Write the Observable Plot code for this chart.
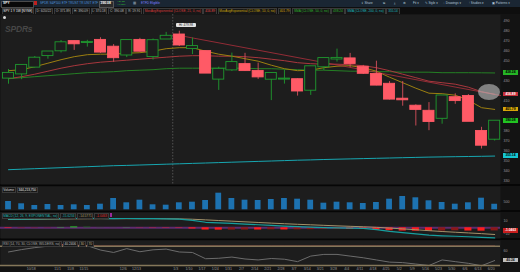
<!DOCTYPE html>
<html><head><meta charset="utf-8">
<script src="https://cdn.jsdelivr.net/npm/d3@7"></script>
<script src="https://cdn.jsdelivr.net/npm/@observablehq/plot@0.6"></script>
<style>
html,body{margin:0;padding:0;background:#060606;}
#wrap{position:relative;width:520px;height:272px;overflow:hidden;font-family:"Liberation Sans","DejaVu Sans",sans-serif;}
.hb{position:absolute;white-space:nowrap;font-size:3.2px;line-height:4.2px;height:4.2px;padding:0 0.8px;background:#171717;border:0.4px solid #3a3a3a;box-sizing:content-box;}
.vb{position:absolute;white-space:nowrap;font-size:3.3px;line-height:4.4px;height:4.4px;width:15px;text-align:center;font-weight:bold;}
</style></head><body><div id="wrap"></div>
<script>
// ---------- data ----------
const weeks = ["10/4","10/11","10/18","10/25","11/1","11/8","11/15","11/22","11/29","12/6","12/13","12/20","12/27","1/3","1/10","1/17","1/24","1/31","2/7","2/14","2/21","2/28","3/7","3/14","3/21","3/28","4/4","4/11","4/18","4/25","5/2","5/9","5/16","5/23","5/30","6/6","6/13","6/20"];
const open  = [433.0,437.2,444.0,455.5,460.3,469.7,468.6,470.9,464.1,456.1,470.9,454.5,472.1,476.3,462.7,459.7,432.0,441.2,446.7,439.9,431.9,432.0,431.6,420.9,444.3,452.1,452.4,444.1,436.8,427.0,412.1,405.1,400.0,392.8,413.6,414.8,379.8,371.89];
const high  = [441.7,446.3,454.7,459.6,470.7,470.2,470.9,473.5,466.6,470.9,472.9,472.2,478.8,479.98,473.2,460.0,444.0,458.1,457.9,448.1,438.7,441.1,432.3,444.9,453.0,462.1,457.8,445.8,450.0,429.6,429.7,406.4,408.6,415.4,417.4,416.6,383.9,390.09];
const low   = [427.0,431.5,443.3,452.0,458.2,460.8,464.1,457.8,448.9,453.6,459.1,451.1,472.1,464.7,456.6,438.0,420.8,439.8,439.9,431.8,410.6,427.1,415.1,415.8,440.7,449.1,443.5,436.7,425.4,411.2,405.0,385.2,380.5,387.0,406.9,389.8,362.2,370.18];
const close = [437.9,445.9,453.1,459.3,468.5,467.3,468.9,459.0,453.4,470.7,459.9,470.6,475.0,466.1,464.7,438.0,442.0,448.7,440.5,434.2,437.8,432.2,420.1,444.5,452.7,452.9,447.6,437.8,426.0,412.0,411.3,401.7,389.6,415.3,410.5,389.8,365.9,390.08];
const ema10 = [440.5,441.5,444.5,448,451.5,454.5,456.5,457,457,458,458.5,460,462.5,463.5,463.5,460,457,455,452.5,450,446,442.5,440.5,441,443.5,445,445.5,443.5,440,434,428.5,423,418,417.5,416,411,403.5,401.79];
const ema21 = [432.5,434.5,437,440,443,445.5,447.5,449,450,451,452,453,454,455,455.5,455.5,455,455,454.5,453.5,452,450.5,448.5,447.5,447,447,446.5,445.5,443.5,440.5,437,433.5,430,428.5,427,424,419.5,416.89];
const sma50 = [432.5,433.5,434.5,435.5,436.5,437.5,438.5,439,439.5,440.5,441,441.5,442.5,443,443,443,443,443,443,442.5,442.5,442,441.5,441,441,440.5,440,440,439.5,439.5,439,439,439,438.5,438.5,438.5,438.4,438.24];
const sma200 = [341.5,342,342.5,343,343.5,344,344.5,345,345.5,345.8,346.2,346.6,347,347.4,347.8,348.2,348.6,349,349.4,349.8,350.2,350.6,351,351.3,351.7,352,352.3,352.6,352.9,353.2,353.5,353.8,354.1,354.3,354.5,354.7,354.9,355.14];
const trendWeeks = [13.3, 37.44];
const trendPrice = [475, 415.7];
const yearBreak = [12.5];
const volume = [540,390,280,345,280,325,280,365,735,455,625,325,300,455,495,605,1080,735,625,605,670,735,690,625,430,495,455,410,475,690,865,780,585,475,365,455,755,360];
const macd   = [13.3,13.5,13.7,13.9,14.1,14.3,14.4,14.3,14.2,14.3,14.2,14.0,13.8,13.3,11.5,8.5,7.6,6.8,5.8,4.7,3.6,2.6,1.7,1.0,0.4,-0.1,-0.6,-1.0,-2.8,-5.5,-7.5,-9.2,-11.2,-12.3,-13.0,-13.8,-14.6,-15.6];
const signal = [12.8,13.0,13.2,13.4,13.6,13.8,13.9,14.0,14.0,14.0,14.0,14.0,13.9,13.7,13.2,12.2,11.2,10.2,9.2,8.2,7.2,6.3,5.4,4.6,3.8,3.0,2.3,1.6,0.8,-0.4,-1.7,-3.0,-4.4,-5.7,-6.8,-7.9,-9.0,-10.3];
const hist   = [-0.8,-0.6,-0.5,-0.4,0.5,1.2,1.0,0.3,0.2,0.3,-0.3,-0.4,-0.5,-0.6,-1.8,-3.4,-3.6,-3.5,-3.4,-3.4,-3.0,-3.3,-3.0,-2.8,-2.5,-2.4,-2.6,-2.6,-3.6,-4.5,-5.0,-5.2,-5.5,-5.0,-4.6,-5.0,-5.2,-4.8];
const rsi = [58,63,67,70,73,72,71,62,57,65,58.5,62.5,64,58,57,44,45,47.5,43.5,41.5,44.5,43,38,49.5,53,53,49.5,46,41.5,37,36,33,30,41.5,38,34.5,29.5,40.24];
const tickLabels = ["10/18","11/1","11/8","11/15","12/6","12/13","1/3","1/10","1/17","1/24","1/31","2/7","2/14","2/21","2/28","3/7","3/14","3/21","3/28","4/4","4/11","4/18","4/25","5/2","5/9","5/16","5/23","5/30","6/6","6/13","6/20"];
const priceTicks = [330,340,350,360,370,380,390,400,410,420,430,440,450,460,470,480,490];
const volTicks = [500];
const macdTicks = [10,-10];
const rsiTicks = [60];
const rsiLevels = [70,30];
const highlight = {week: 36.6, price: 418.7};
const volumeReadout = "344,213,750";
const macdReadout = ["-15.6234","-14.5771","-1.0463"];
const rsiReadout = "40.2406";
const change = ["+24.22","+6.62%"];

// ---------- layout / style ----------
const N = weeks.length, idx = d3.range(N);
const xDomain = [-0.609, 37.443];
const W = 520, MR = 20;
const panelBg = "#1d1d1d", stripBg = "#131313";
const UP = "#1f9b2f", DN = "#ff5a66", DNW = "#d8505c";
const wrap = document.getElementById("wrap");
function put(node, top){ node.style.position="absolute"; node.style.left="0px"; node.style.top=top+"px"; wrap.appendChild(node); return node; }
function div(css, text){ const e=document.createElement("div"); e.style.cssText=css; if(text!=null) e.textContent=text; wrap.appendChild(e); return e; }
function lab(left, top, text, color, size=3.2, extra=""){ return div(`position:absolute;white-space:nowrap;line-height:1;left:${left}px;top:${top}px;color:${color};font-size:${size}px;${extra}`, text); }
function hb(left, top, text, color, extra=""){ const e=div(`left:${left}px;top:${top}px;color:${color};${extra}`, text); e.className="hb"; return e; }
function hbRow(start, top, items, gap=0.9){ let x = start; items.forEach(([t,c]) => { const e = hb(x, top, t, c); x += e.getBoundingClientRect().width + gap; }); return x; }
function vbox(top, text, bg, fg){ const e=div(`left:503px;top:${top-2.2}px;background:${bg};color:${fg};`, text); e.className="vb"; return e; }

function panel(height, yDomain, marks, mb=0){
  return Plot.plot({width: W, height, marginLeft: 0, marginRight: MR, marginTop: 0, marginBottom: mb,
    x: {domain: xDomain, axis: null}, y: {domain: yDomain, axis: null},
    style: {background: stripBg, fontFamily: "Liberation Sans, sans-serif", fontSize: "3.6px", color: "#9a9a9a", overflow: "visible"},
    marks: [Plot.frame({fill: panelBg, stroke: "none"}), ...marks]});
}
function rightAxis(ticks){ return Plot.axisY({anchor: "right", ticks, tickSize: 0, tickPadding: 3, label: null, fill: "#9a9a9a", fontSize: 3.6}); }

// ---------- header rows ----------
div("position:absolute;left:0;top:0;width:520px;height:7px;background:#1a2633;");
div("position:absolute;left:0;top:7px;width:520px;height:7px;background:#0e0e0e;");
div("position:absolute;left:1px;top:1px;width:31px;height:4.6px;background:#080808;border:0.4px solid #4a4a4a;");
lab(3, 1.9, "SPY", "#f0f0f0", 3.3, "font-weight:bold;");
div("position:absolute;left:34px;top:1.4px;width:2.6px;height:4px;background:#c0201f;");
lab(40, 2, "SPDR S&P500 ETF TRUST TR UNIT ETF", "#4d8fd6", 3.1);
div("position:absolute;left:99px;top:1px;width:13px;height:4.8px;background:#2a2a2a;border:0.4px solid #555;");
lab(100.5, 1.9, close[N-1].toFixed(2), "#fff", 3.4, "font-weight:bold;");
lab(117, 0.9, change[0], "#33c433", 2.5);
lab(117, 3.7, change[1], "#33c433", 2.5);
lab(133, 1.6, "▦", "#8a9aaa", 3.4);
lab(141, 2, "ETFD Eligible", "#7a80ff", 3.1);
[[361,"⇪ Share"],[383,"⧉"],[393.5,"⤓"],[403,"⚙"],[413,"Fit ▾"],[425,"✎ Style ▾"],[443,"◌ Drawings ▾"],[469,"⫶ Studies ▾"],[492,"▣ Patterns ▾"]]
  .forEach(([x,t]) => lab(x, 2, t, "#b4c6d8", 3.1));
hbRow(1.5, 8.4, [["SPY 1 Y 1W [NYSE]","#f4f4f4"],["D: 6/20/22","#bdbdbd"],["O: "+open[N-1].toFixed(2),"#bdbdbd"],["H: "+high[N-1].toFixed(2),"#bdbdbd"],["L: "+low[N-1].toFixed(2),"#bdbdbd"],["C: "+close[N-1].toFixed(2),"#bdbdbd"],["R: "+(high[N-1]-low[N-1]).toFixed(2),"#bdbdbd"],
  ["MovAvgExponential (CLOSE, 21, 0, no)","#d93a3a"],[ema21[N-1].toFixed(2),"#e24a4a"],["MovAvgExponential (CLOSE, 10, 0, no)","#c9a50c"],[ema10[N-1].toFixed(2),"#d4a50a"],
  ["SMA (CLOSE, 50, 0, no)","#2cb52c"],[sma50[N-1].toFixed(2),"#2cb52c"],["SMA (CLOSE, 200, 0, no)","#19b8c0"],[sma200[N-1].toFixed(2),"#19b8c0"]], 0.8);

// ---------- main price panel ----------
const isUp = i => close[i] >= open[i];
const boxValues = [sma50[N-1], ema21[N-1], ema10[N-1], close[N-1], sma200[N-1]];
const shownPriceTicks = priceTicks.filter(t => boxValues.every(b => Math.abs(b - t) > 4.5));
const main = panel(170, [326.7, 496.7], [
  Plot.ruleX(yearBreak, {stroke: "#6a6a6a", strokeWidth: 0.7, strokeDasharray: "1.5,1.5"}),
  rightAxis(shownPriceTicks),
  Plot.line(idx, {x: i => i, y: i => sma200[i], stroke: "#17a6b0", strokeWidth: 1}),
  Plot.line(idx, {x: i => i, y: i => sma50[i], stroke: "#247f24", strokeWidth: 1}),
  Plot.line(idx, {x: i => i, y: i => ema21[i], stroke: "#a8373d", strokeWidth: 1}),
  Plot.line(idx, {x: i => i, y: i => ema10[i], stroke: "#9c7f10", strokeWidth: 1}),
  Plot.line([0,1], {x: k => trendWeeks[k], y: k => trendPrice[k], stroke: "#b0303c", strokeWidth: 0.8}),
  Plot.ruleX(idx, {x: i => i, y1: i => low[i], y2: i => high[i], stroke: i => isUp(i) ? UP : DNW, strokeWidth: 0.9}),
  Plot.rect(idx, {x1: i => i - 0.42, x2: i => i + 0.42, y1: i => open[i], y2: i => close[i],
    fill: i => isUp(i) ? panelBg : DN, stroke: i => isUp(i) ? UP : DN, strokeWidth: 0.9, insetTop: -0.4, insetBottom: -0.4})
]);
put(main, 14);
const sx = v => main.scale("x").apply(v), sy = v => main.scale("y").apply(v) + 14;
lab(5, 24.5, "SPDRs", "#474747", 8.5, "font-weight:bold;font-style:italic;letter-spacing:-0.2px;");
div("position:absolute;left:3.2px;top:15.6px;width:3px;height:3px;border-radius:50%;background:#d8d8d8;");
div(`position:absolute;left:${sx(highlight.week)-11}px;top:${sy(highlight.price)-8}px;width:22px;height:16px;border-radius:50%;background:rgba(190,190,190,0.62);`);
div(`position:absolute;left:${sx(13)-2.8}px;top:${sy(high[13])-8.2}px;width:20px;height:4.6px;background:#e4e4e4;border-radius:1px;color:#222;font-size:3.1px;line-height:4.6px;text-align:center;white-space:nowrap;`, "Hi: " + high[13].toFixed(2));
vbox(sy(sma50[N-1]), sma50[N-1].toFixed(2), "#25b525", "#000");
vbox(sy(ema21[N-1]), ema21[N-1].toFixed(2), "#c8303c", "#fff");
vbox(sy(ema10[N-1]), ema10[N-1].toFixed(2), "#d6a60a", "#000");
vbox(sy(close[N-1]), close[N-1].toFixed(2), "#22c422", "#000");
vbox(sy(sma200[N-1]), sma200[N-1].toFixed(2), "#16c6d0", "#000");

// ---------- volume ----------
const vol = panel(24, [-45.5, 1514.5], [
  rightAxis(volTicks),
  Plot.rect(idx, {x1: i => i - 0.22, x2: i => i + 0.22, y1: 0, y2: i => volume[i], fill: "#1d72b0"})
]);
put(vol, 186);
hbRow(1.5, 187, [["Volume","#dddddd"],[volumeReadout,"#eeeeee"]]);

// ---------- MACD ----------
const histColor = i => { const v = hist[i], p = i ? hist[i-1] : v;
  return v >= 0 ? (v >= p ? "#22ee22" : "#127a12") : (v <= p ? "#ff1c1c" : "#8a1818"); };
const macdPlot = panel(26, [-16.46, 23.54], [
  rightAxis(macdTicks),
  Plot.ruleY([0], {stroke: "#5d2b6e", strokeWidth: 2}),
  Plot.rect(idx, {x1: i => i - 0.27, x2: i => i + 0.27, y1: 0, y2: i => hist[i], fill: histColor}),
  Plot.line(idx, {x: i => i, y: i => signal[i], stroke: "#a3926a", strokeWidth: 1}),
  Plot.line(idx, {x: i => i, y: i => macd[i], stroke: "#169e9e", strokeWidth: 1.2})
]);
put(macdPlot, 212);
const mEnd = hbRow(1.5, 212.6, [["MACD (12, 26, 9, EXPONENTIAL, no)","#22b0b0"],[macdReadout[0],"#22b0b0"],[macdReadout[1],"#b0a070"],[macdReadout[2],"#e03030"]]);
div(`position:absolute;left:${mEnd}px;top:212.8px;width:2.6px;height:4.2px;background:#9a2a9a;`);
vbox(212 + macdPlot.scale("y").apply(hist[N-1]), macdReadout[2], "#c81e1e", "#fff");

// ---------- RSI + x axis ----------
const tickIdx = tickLabels.map(t => weeks.indexOf(t));
const rsiPlot = panel(32, [27.93, 81.81], [
  rightAxis(rsiTicks),
  Plot.line(idx, {x: i => i, y: i => rsi[i], stroke: "#6c6c6c", strokeWidth: 1}),
  Plot.line(idx, {x: i => i, y: i => Math.max(rsi[i], rsiLevels[0]), stroke: "#c8504a", strokeWidth: 1}),
  Plot.ruleY(rsiLevels, {stroke: "#85775a", strokeWidth: 1.4}),
  Plot.axisX({ticks: tickIdx, tickFormat: i => weeks[i], tickSize: 0, tickPadding: 0.6, fill: "#9a9a9a", fontSize: 3.6, dx: -3.5, label: null})
], 6);
put(rsiPlot, 240);
hbRow(1.5, 240.6, [["RSI (14, 70, 30, CLOSE, WILDERS, no)","#a8a8a8"],[rsiReadout,"#c8c8c8"],[String(rsiLevels[1]),"#c8b080"],[String(rsiLevels[0]),"#c8b080"]]);
vbox(240 + rsiPlot.scale("y").apply(rsi[N-1]), rsi[N-1].toFixed(2), "#bdbdbd", "#111");
</script></body></html>
